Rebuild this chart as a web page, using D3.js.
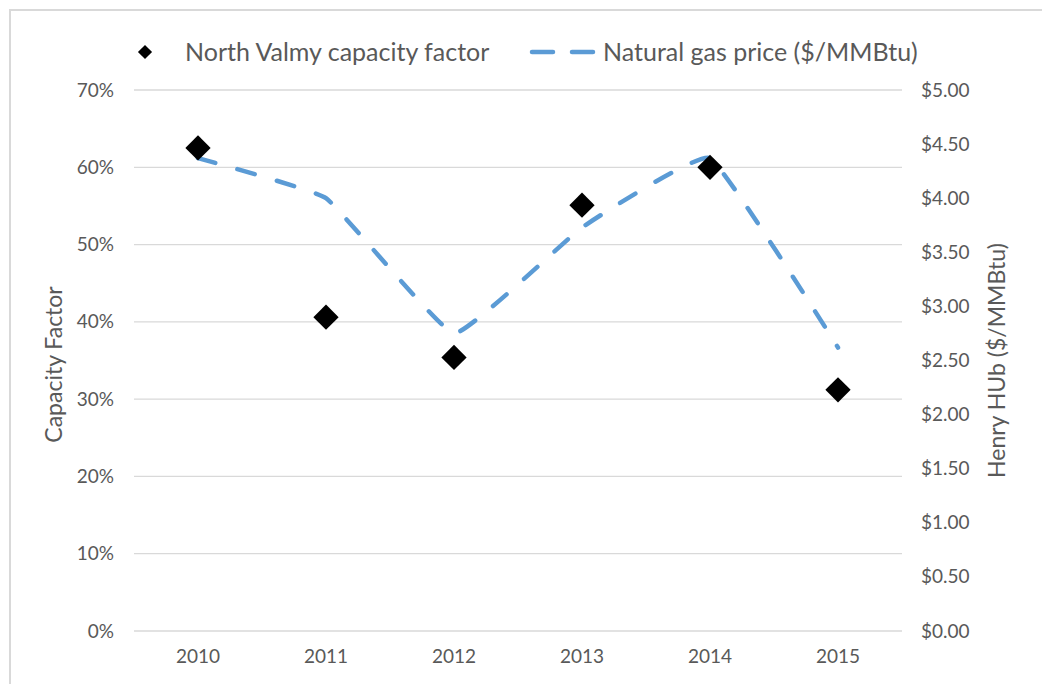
<!DOCTYPE html>
<html>
<head>
<meta charset="utf-8">
<script src="https://cdn.jsdelivr.net/npm/d3@7"></script>
<style>
  body { margin: 0; background: #fff; }
  text { font-family: Lato, "Open Sans", sans-serif; fill: #595959; }
</style>
</head>
<body>
<script>
const years = ["2010", "2011", "2012", "2013", "2014", "2015"];
const capacityFactor = [0.625, 0.406, 0.354, 0.551, 0.600, 0.312];
const gasPrice = [4.37, 4.00, 2.75, 3.73, 4.37, 2.62];
const leftTicks = [0, 0.1, 0.2, 0.3, 0.4, 0.5, 0.6, 0.7];
const rightTicks = [0, 0.5, 1, 1.5, 2, 2.5, 3, 3.5, 4, 4.5, 5];

const wSvg = 1042;
const hSvg = 684;
const plotLeft = 134, plotRight = 902, plotTop = 90, plotBottom = 631;

let svg = d3.select("body")
    .append("svg")
    .attr("width", wSvg)
    .attr("height", hSvg);

// chart frame
svg.append("rect")
    .attr("x", 10)
    .attr("y", 10)
    .attr("width", 1100)
    .attr("height", 800)
    .attr("fill", "white")
    .attr("stroke", "#d9d9d9")
    .attr("stroke-width", 2);

let xScale = d3.scaleBand(years, [plotLeft, plotRight]);
let cfScale = d3.scaleLinear([0, 0.7], [plotBottom, plotTop]);
let priceScale = d3.scaleLinear([0, 5], [plotBottom, plotTop]);

// gridlines
svg.append("g")
    .selectAll("line")
    .data(leftTicks)
    .enter()
    .append("line")
    .attr("x1", plotLeft)
    .attr("x2", plotRight)
    .attr("y1", d => cfScale(d))
    .attr("y2", d => cfScale(d))
    .attr("stroke", "#d9d9d9")
    .attr("stroke-width", 1.3);

// left axis
let yAxis = d3.axisLeft(cfScale)
    .tickValues(leftTicks)
    .tickFormat(d3.format(".0%"))
    .tickSize(0)
    .tickPadding(20);
svg.append("g")
    .attr("transform", `translate(${plotLeft}, 0)`)
    .call(yAxis)
    .call(g => g.select(".domain").remove())
    .selectAll("text")
    .attr("font-size", 19)
    .attr("fill", "#595959");

// right axis
let y2Axis = d3.axisRight(priceScale)
    .tickValues(rightTicks)
    .tickFormat(d => "$" + d3.format(".2f")(d))
    .tickSize(0)
    .tickPadding(19);
svg.append("g")
    .attr("transform", `translate(${plotRight}, 0)`)
    .call(y2Axis)
    .call(g => g.select(".domain").remove())
    .selectAll("text")
    .attr("font-size", 19)
    .attr("fill", "#595959");

// x axis
let xAxis = d3.axisBottom(xScale)
    .tickSize(0)
    .tickPadding(19);
svg.append("g")
    .attr("transform", `translate(0, ${plotBottom})`)
    .call(xAxis)
    .call(g => g.select(".domain").remove())
    .selectAll("text")
    .attr("font-size", 19)
    .attr("fill", "#595959");

// axis titles
svg.append("text")
    .attr("transform", `translate(62, ${(plotTop + plotBottom) / 2 + 4}) rotate(-90)`)
    .attr("text-anchor", "middle")
    .attr("font-size", 23)
    .text("Capacity Factor");

svg.append("text")
    .attr("transform", `translate(1005, ${(plotTop + plotBottom) / 2}) rotate(-90)`)
    .attr("text-anchor", "middle")
    .attr("font-size", 23)
    .text("Henry HUb ($/MMBtu)");

// gas price line
const dMaker = d3.line()
    .x((d, i) => xScale(years[i]) + xScale.bandwidth() / 2)
    .y(d => priceScale(d))
    .curve(d3.curveCardinal.tension(0.7));

svg.append("path")
    .attr("d", dMaker(gasPrice))
    .attr("fill", "none")
    .attr("stroke", "#5b9bd5")
    .attr("stroke-width", 4.5)
    .attr("stroke-linecap", "round")
    .attr("stroke-dasharray", "18 23");

// capacity factor markers
const diamond = d3.symbol().type(d3.symbolSquare).size(320);
svg.append("g")
    .selectAll("path")
    .data(capacityFactor)
    .enter()
    .append("path")
    .attr("d", diamond)
    .attr("transform", (d, i) => `translate(${xScale(years[i]) + xScale.bandwidth() / 2}, ${cfScale(d)}) rotate(45)`)
    .attr("fill", "black");

// legend
let legend = svg.append("g");
legend.append("path")
    .attr("d", d3.symbol().type(d3.symbolSquare).size(100))
    .attr("transform", "translate(145, 52) rotate(45)")
    .attr("fill", "black");
legend.append("text")
    .attr("x", 185)
    .attr("y", 52)
    .attr("dy", "0.35em")
    .attr("font-size", 25)
    .text("North Valmy capacity factor");
legend.append("line")
    .attr("x1", 532)
    .attr("x2", 596)
    .attr("y1", 52)
    .attr("y2", 52)
    .attr("stroke", "#5b9bd5")
    .attr("stroke-width", 4.5)
    .attr("stroke-linecap", "round")
    .attr("stroke-dasharray", "21 19");
legend.append("text")
    .attr("x", 603)
    .attr("y", 52)
    .attr("dy", "0.35em")
    .attr("font-size", 25)
    .text("Natural gas price ($/MMBtu)");
</script>
</body>
</html>
